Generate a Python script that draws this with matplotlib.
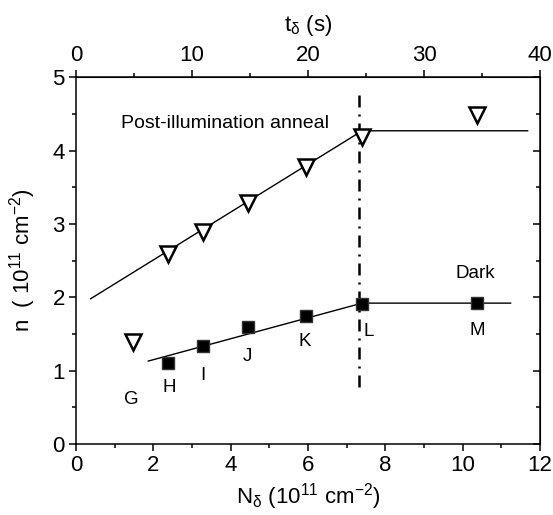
import matplotlib
matplotlib.use("Agg")
import matplotlib.pyplot as plt
from matplotlib.ticker import MultipleLocator, FixedLocator

plt.rcParams['font.family'] = ['Liberation Sans', 'DejaVu Sans']
plt.rcParams['mathtext.fontset'] = 'custom'
plt.rcParams['mathtext.rm'] = 'Liberation Sans'
plt.rcParams['mathtext.it'] = 'Liberation Sans'

# Data
anneal_N = [1.48, 2.37, 3.28, 4.46, 5.94, 7.40, 10.36]
anneal_n = [1.39, 2.59, 2.89, 3.28, 3.78, 4.19, 4.49]
dark_N = [2.39, 3.29, 4.46, 5.94, 7.40, 10.36]
dark_n = [1.10, 1.33, 1.59, 1.74, 1.91, 1.92]
dark_labels = ['H', 'I', 'J', 'K', 'L', 'M']
dark_label_pos = [(2.41, 0.77), (3.27, 0.93), (4.44, 1.19), (5.92, 1.39), (7.56, 1.53), (10.38, 1.54)]
fit_anneal_N = [0.38, 7.40, 11.68]
fit_anneal_n = [1.98, 4.27, 4.27]
fit_dark_N = [1.87, 7.40, 11.24]
fit_dark_n = [1.13, 1.92, 1.92]
vline_N = 7.33
vline_range = (0.78, 4.79)
top_ticks = [0, 10, 20, 30, 40]

fig = plt.figure(figsize=(5.53, 5.15), dpi=100)
ax = fig.add_axes([0.1374, 0.138, 0.8391, 0.712])

ax.plot(fit_anneal_N, fit_anneal_n, color='black', lw=1.0, zorder=2)
ax.plot(fit_dark_N, fit_dark_n, color='black', lw=1.0, zorder=2)
ax.plot([vline_N, vline_N], vline_range, color='black', lw=1.8,
        linestyle=(0, (4.8, 2.8, 0.8, 2.8)), zorder=1)
ax.plot(anneal_N, anneal_n, linestyle='none', marker='v', markersize=12,
        markerfacecolor='white', markeredgecolor='black', markeredgewidth=1.8, zorder=3)
ax.plot(dark_N, dark_n, linestyle='none', marker='s', markersize=9,
        markerfacecolor='black', markeredgecolor='#333333', markeredgewidth=1.0, zorder=3)

fs = 13.5
for lab, (x, y) in zip(dark_labels, dark_label_pos):
    ax.text(x, y, lab, fontsize=fs, ha='center', va='center')
ax.text(1.44, 0.60, 'G', fontsize=fs, ha='center', va='center')
ax.text(10.32, 2.33, 'Dark', fontsize=fs, ha='center', va='center')
ax.text(3.85, 4.375, 'Post-illumination anneal', fontsize=14, ha='center', va='center')

ax.set_xlim(0, 12)
ax.set_ylim(0, 5)
ax.xaxis.set_major_locator(MultipleLocator(2))
ax.xaxis.set_minor_locator(MultipleLocator(1))
ax.yaxis.set_major_locator(MultipleLocator(1))
ax.yaxis.set_minor_locator(MultipleLocator(0.5))
ax.tick_params(which='both', direction='out', labelsize=16, width=1.1, pad=3)
ax.tick_params(which='major', length=5)
ax.tick_params(which='minor', length=3)
for s in ax.spines.values():
    s.set_linewidth(1.1)

ax.set_xlabel(r'N$_\delta$ (10$^{11}$ cm$^{-2}$)', fontsize=16, labelpad=4)
ax.set_ylabel(r'n  ( 10$^{11}$ cm$^{-2}$)', fontsize=16, labelpad=10)

sec_r = ax.secondary_yaxis('right')
sec_r.yaxis.set_major_locator(MultipleLocator(1))
sec_r.yaxis.set_minor_locator(MultipleLocator(0.5))
sec_r.tick_params(which='both', direction='in', labelright=False, width=1.1)
sec_r.tick_params(which='major', length=5)
sec_r.tick_params(which='minor', length=3)

sec = ax.secondary_xaxis('top', functions=(lambda N: N * 40 / 12, lambda t: t * 12 / 40))
sec.xaxis.set_major_locator(FixedLocator(top_ticks))
sec.xaxis.set_minor_locator(FixedLocator([5, 15, 25, 35]))
sec.tick_params(which='both', direction='out', labelsize=16, width=1.1, pad=3)
sec.tick_params(which='major', length=5)
sec.tick_params(which='minor', length=3)
sec.set_xlabel(r't$_\delta$ (s)', fontsize=16, labelpad=10)

fig.savefig('out.png', dpi=100)
